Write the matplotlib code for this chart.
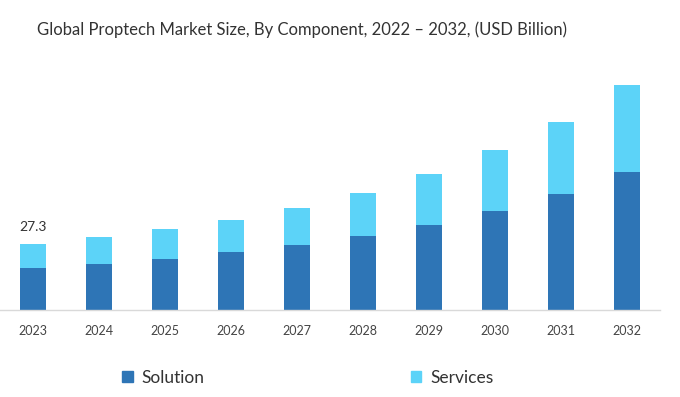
import matplotlib
matplotlib.use("Agg")
import matplotlib.pyplot as plt
from matplotlib.patches import Patch
import numpy as np

plt.rcParams["font.family"] = ["Lato", "DejaVu Sans"]

years = ["2023", "2024", "2025", "2026", "2027", "2028", "2029", "2030", "2031", "2032"]
solution = [17.4, 19.2, 21.1, 23.9, 26.8, 30.5, 35.2, 40.9, 48.1, 56.9]
services = [9.9, 10.9, 12.3, 13.3, 15.4, 18.0, 20.9, 25.3, 29.8, 36.2]
first_label = "27.3"

c_sol = "#2E75B6"
c_srv = "#5CD3F8"

fig = plt.figure(figsize=(6.8, 3.97), dpi=100)
ax = fig.add_axes([0.0, 0.2191, 0.9706, 0.6091])

x = np.arange(len(years))
ax.bar(x, solution, width=0.39, color=c_sol)
ax.bar(x, services, width=0.39, bottom=solution, color=c_srv)

ax.text(x[0], solution[0] + services[0] + 4.5, first_label, ha="center", va="bottom",
        fontsize=10, color="#333333")

ax.set_xlim(-0.5, 9.5)
ax.set_ylim(0, 100)
ax.set_xticks(x)
ax.set_xticklabels(years, fontsize=9, color="#444444")
ax.tick_params(axis="x", length=0, pad=11)
ax.set_yticks([])
for side in ["top", "right", "left"]:
    ax.spines[side].set_visible(False)
ax.spines["bottom"].set_color("#d9d9d9")
ax.spines["bottom"].set_linewidth(1)

fig.text(0.054, 0.925, "Global Proptech Market Size, By Component, 2022 \u2013 2032, (USD Billion)",
         fontsize=12, color="#333333", va="center", ha="left")

handles = [Patch(color=c_sol), Patch(color=c_srv)]
fig.legend(handles, ["Solution", "Services"], ncol=2, loc="center left",
           bbox_to_anchor=(0.157, 0.048), frameon=False, fontsize=12.5,
           handlelength=0.6, handleheight=0.6, handletextpad=0.5,
           columnspacing=11.9, labelcolor="#333333")

fig.savefig("out.png", dpi=100)
